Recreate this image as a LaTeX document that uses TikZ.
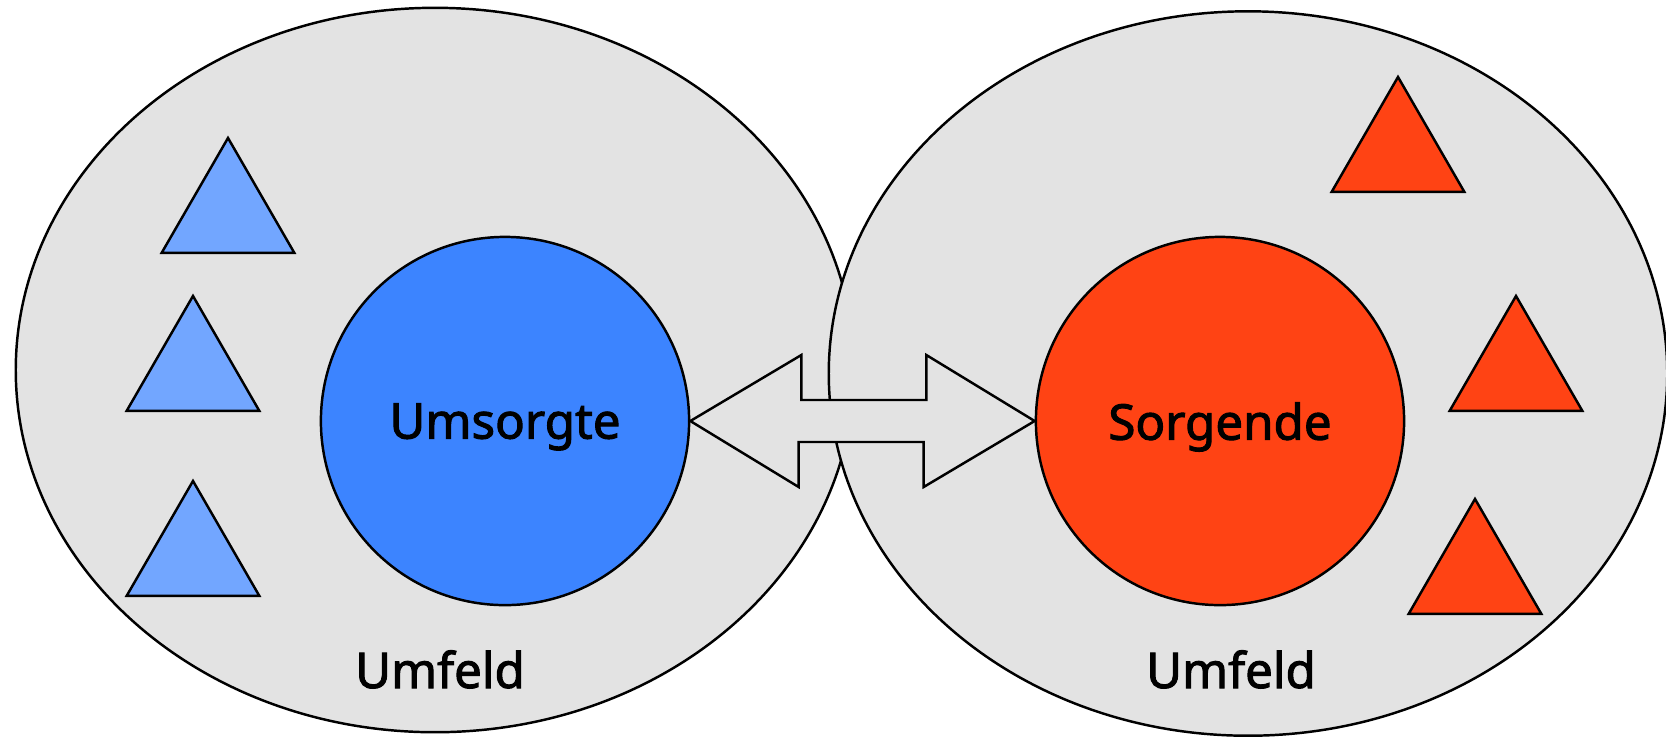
\documentclass[tikz,border=0pt]{standalone}
\usepackage{fontspec}
\setmainfont{Noto Sans}
\newfontfamily\tagfont{Noto Sans}[FakeBold=2]
\usetikzlibrary{shapes.geometric}

\definecolor{fieldgray}{HTML}{E3E3E3}
\definecolor{caredblue}{HTML}{3C84FF}
\definecolor{lightblue}{HTML}{72A6FF}
\definecolor{carered}{HTML}{FF4314}

\begin{document}
\begin{tikzpicture}[x=0.01cm,y=-0.01cm,line width=0.7pt,
                    field node/.style={ellipse,draw,fill=fieldgray,inner sep=0pt,minimum width=8.38cm,minimum height=7.24cm},
                    main node/.style={circle,draw,inner sep=0pt,minimum size=3.68cm,text depth=0pt,font=\tagfont\fontsize{14}{16}\selectfont},
                    tri node/.style={regular polygon,regular polygon sides=3,draw,inner sep=0pt,minimum size=1.53cm},
                    text node/.style={anchor=base,font=\tagfont\fontsize{14}{16}\selectfont}]
\useasboundingbox (0,0) rectangle (1666,738);

\node[field node] (1) at (435,370) {};
\node[field node] (2) at (1248,373.5) {};

\node[main node,fill=caredblue] (3) at (505,421) {Umsorgte};
\node[main node,fill=carered] (4) at (1220,421) {Sorgende};

\node[tri node,fill=lightblue] (5) at (228,214.5) {};
\node[tri node,fill=lightblue] (6) at (193,372.5) {};
\node[tri node,fill=lightblue] (7) at (193,557.5) {};
\node[tri node,fill=carered] (8) at (1398,153.5) {};
\node[tri node,fill=carered] (9) at (1516,372.5) {};
\node[tri node,fill=carered] (10) at (1475,575.5) {};

\draw[fill=fieldgray] (3.east) -- ++(111,-66) -- ++(0,45) -- ++(125,0) -- ++(0,-45)
  -- (4.west) -- ++(-111,66) -- ++(0,-45) -- ++(-125,0) -- ++(0,45) -- cycle;

\node[text node] (11) at (440,688) {Umfeld};
\node[text node] (12) at (1231,688) {Umfeld};

\end{tikzpicture}
\end{document}
